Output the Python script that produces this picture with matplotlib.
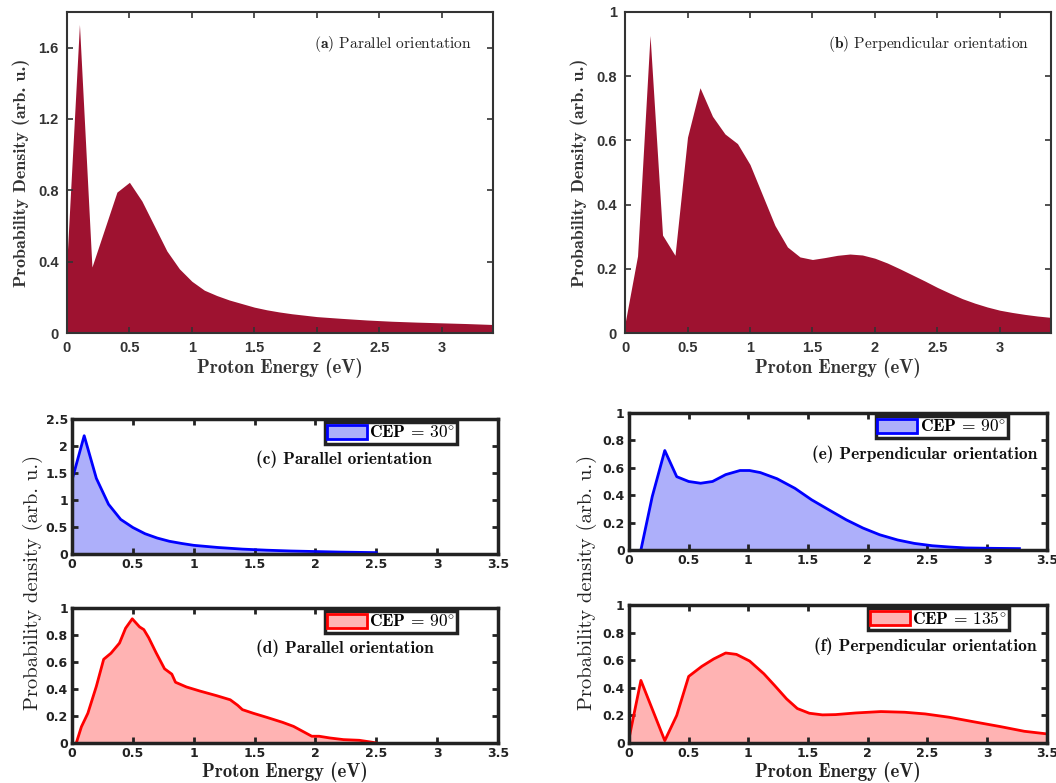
import numpy as np
import matplotlib
matplotlib.use('Agg')
import matplotlib.pyplot as plt
from matplotlib.patches import Patch

plt.rcParams['mathtext.fontset'] = 'cm'

# (a) parallel orientation, total spectrum
xa = [0.0, 0.1, 0.2, 0.3, 0.4, 0.5, 0.6, 0.7, 0.8, 0.9, 1.0, 1.1, 1.2, 1.3, 1.4,
      1.5, 1.6, 1.7, 1.8, 2.0, 2.2, 2.4, 2.6, 2.8, 3.0, 3.2, 3.4]
ya = [0.41, 1.73, 0.37, 0.58, 0.79, 0.845, 0.74, 0.60, 0.46, 0.36, 0.29, 0.24,
      0.21, 0.185, 0.165, 0.145, 0.13, 0.118, 0.108, 0.092, 0.082, 0.073, 0.066,
      0.061, 0.057, 0.053, 0.048]

# (b) perpendicular orientation, total spectrum
xb = [0.0, 0.1, 0.2, 0.3, 0.4, 0.5, 0.6, 0.7, 0.8, 0.9, 1.0, 1.1, 1.2, 1.3, 1.4,
      1.5, 1.6, 1.7, 1.8, 1.9, 2.0, 2.1, 2.2, 2.3, 2.4, 2.5, 2.6, 2.7, 2.8, 2.9,
      3.0, 3.1, 3.2, 3.3, 3.4]
yb = [0.03, 0.24, 0.927, 0.305, 0.242, 0.61, 0.764, 0.675, 0.62, 0.59, 0.525,
      0.43, 0.335, 0.268, 0.237, 0.229, 0.235, 0.242, 0.246, 0.243, 0.233, 0.218,
      0.2, 0.181, 0.162, 0.142, 0.124, 0.107, 0.093, 0.081, 0.071, 0.064, 0.058,
      0.053, 0.049]

# (c) parallel, CEP = 30 deg
xc = [0.0, 0.1, 0.2, 0.3, 0.4, 0.5, 0.6, 0.7, 0.8, 0.9, 1.0, 1.2, 1.4, 1.6, 1.8,
      2.0, 2.2, 2.5]
yc = [1.37, 2.19, 1.40, 0.92, 0.64, 0.49, 0.375, 0.295, 0.235, 0.195, 0.16,
      0.12, 0.09, 0.07, 0.055, 0.045, 0.035, 0.025]

# (d) parallel, CEP = 90 deg
xd = [0.035, 0.077, 0.13, 0.2, 0.26, 0.32, 0.39, 0.44, 0.495, 0.555, 0.59, 0.63,
      0.69, 0.76, 0.82, 0.85, 0.94, 1.05, 1.19, 1.3, 1.36, 1.4, 1.49, 1.6, 1.73,
      1.82, 1.97, 2.03, 2.12, 2.23, 2.36, 2.47, 2.5]
yd = [0.0, 0.12, 0.22, 0.42, 0.62, 0.665, 0.74, 0.85, 0.92, 0.86, 0.84, 0.78,
      0.67, 0.55, 0.51, 0.45, 0.415, 0.385, 0.35, 0.32, 0.28, 0.247, 0.22, 0.19,
      0.153, 0.123, 0.05, 0.05, 0.037, 0.025, 0.02, 0.005, 0.0]

# (e) perpendicular, CEP = 90 deg
xe = [0.1, 0.195, 0.3, 0.4, 0.5, 0.6, 0.7, 0.81, 0.93, 1.01, 1.1, 1.24, 1.39,
      1.53, 1.68, 1.82, 1.96, 2.1, 2.25, 2.39, 2.54, 2.68, 2.82, 3.05, 3.27]
ye = [0.0, 0.39, 0.726, 0.535, 0.50, 0.487, 0.50, 0.55, 0.58, 0.58, 0.565, 0.52,
      0.45, 0.366, 0.29, 0.22, 0.16, 0.111, 0.073, 0.048, 0.031, 0.022, 0.015,
      0.012, 0.01]

# (f) perpendicular, CEP = 135 deg
xf = [0.0, 0.1, 0.3, 0.4, 0.5, 0.61, 0.71, 0.81, 0.9, 1.01, 1.13, 1.22, 1.32,
      1.41, 1.51, 1.62, 1.73, 1.9, 2.11, 2.31, 2.48, 2.68, 2.88, 3.11, 3.31, 3.5]
yf = [0.03, 0.454, 0.017, 0.2, 0.483, 0.556, 0.61, 0.653, 0.643, 0.595, 0.502,
      0.417, 0.32, 0.25, 0.216, 0.204, 0.206, 0.218, 0.228, 0.223, 0.211, 0.187,
      0.155, 0.119, 0.085, 0.066]

dark_red = '#9E1230'
gray = '#333333'

fig = plt.figure(figsize=(10.56, 7.83), dpi=100)


def top_panel(rect, x, y, yticks, ylim, label):
    ax = fig.add_axes(rect)
    ax.fill_between(x, y, 0, color=dark_red, linewidth=0)
    ax.set_xlim(0, 3.41)
    ax.set_ylim(*ylim)
    ax.set_xticks([0, 0.5, 1, 1.5, 2, 2.5, 3])
    ax.set_xticklabels(['0', '0.5', '1', '1.5', '2', '2.5', '3'])
    ax.set_yticks(yticks)
    ax.set_yticklabels(['%g' % t for t in yticks])
    ax.tick_params(direction='in', top=True, right=True, length=4, width=1.2,
                   color=gray, labelcolor=gray, labelsize=10.5, pad=6)
    for lab in ax.get_xticklabels() + ax.get_yticklabels():
        lab.set_fontfamily('Liberation Sans')
        lab.set_fontweight('bold')
    for s in ax.spines.values():
        s.set_color(gray)
        s.set_linewidth(1.5)
    ax.set_xlabel('Proton Energy (eV)', fontfamily='cmb10', fontsize=13.5, color=gray, labelpad=2)
    ax.set_ylabel('Probability Density (arb. u.)', fontfamily='cmb10', fontsize=13, color=gray,
                  labelpad=6)
    ax.text(0.95, 0.9, label, transform=ax.transAxes, ha='right', va='center',
            fontfamily='cmr10', fontsize=11.2, color='#222222')
    return ax


def bottom_panel(rect, x, y, col, fill, ylim, yticks, cep, label, lx, leg_x, xlabel=False):
    ax = fig.add_axes(rect)
    ax.fill_between(x, y, 0, color=fill, linewidth=0)
    ax.plot(x, y, color=col, linewidth=2)
    ax.set_xlim(0, 3.5)
    ax.set_ylim(*ylim)
    ax.set_xticks(np.arange(0, 3.51, 0.5))
    ax.set_xticklabels(['0', '0.5', '1', '1.5', '2', '2.5', '3', '3.5'])
    ax.set_yticks(yticks)
    ax.set_yticklabels(['%g' % t for t in yticks])
    ax.tick_params(direction='in', top=True, right=True, length=4, width=2,
                   color='#222222', labelcolor='#222222', labelsize=9, pad=3)
    for lab in ax.get_xticklabels() + ax.get_yticklabels():
        lab.set_fontweight('bold')
    for s in ax.spines.values():
        s.set_color('#222222')
        s.set_linewidth(2.5)
    h = Patch(facecolor=fill, edgecolor=col, linewidth=2)
    leg = ax.legend([h], [r'$\mathbf{CEP}\,=\,\mathbf{%s}^{\circ}$' % cep], loc='upper right',
                    bbox_to_anchor=(leg_x, 0.995), fontsize=12.5, frameon=True, fancybox=False,
                    framealpha=1, edgecolor='#222222', borderpad=0.1, handlelength=2.3,
                    handleheight=0.9, handletextpad=0.15, borderaxespad=0.15)
    leg.get_frame().set_linewidth(2.5)
    ax.text(lx, 0.70, label, transform=ax.transAxes, ha='right', va='center',
            fontfamily='cmb10', fontsize=12.5, color='#111111')
    if xlabel:
        ax.set_xlabel('Proton Energy (eV)', fontfamily='cmb10', fontsize=13.5, color='#222222',
                      labelpad=1)
    return ax


top_panel([0.0634, 0.5747, 0.4034, 0.41], xa, ya, [0, 0.4, 0.8, 1.2, 1.6], (0, 1.8),
          r'($\mathbf{a}$) Parallel orientation')
top_panel([0.5919, 0.5747, 0.4034, 0.41], xb, yb, [0, 0.2, 0.4, 0.6, 0.8, 1], (0, 1),
          r'($\mathbf{b}$) Perpendicular orientation')

bottom_panel([0.0682, 0.2925, 0.4034, 0.1724], xc, yc, 'blue', '#ADAFFA', (0, 2.5),
             [0, 0.5, 1, 1.5, 2, 2.5], '30', '(c) Parallel orientation', 0.845, 0.91)
bottom_panel([0.0682, 0.0511, 0.4034, 0.1724], xd, yd, 'red', '#FFB3B3', (0, 1),
             [0, 0.2, 0.4, 0.6, 0.8, 1], '90', '(d) Parallel orientation', 0.85, 0.91,
             xlabel=True)
bottom_panel([0.5956, 0.2976, 0.3958, 0.175], xe, ye, 'blue', '#ADAFFA', (0, 1),
             [0, 0.2, 0.4, 0.6, 0.8, 1], '90', '(e) Perpendicular orientation', 0.976, 0.912)
bottom_panel([0.5956, 0.0511, 0.3958, 0.176], xf, yf, 'red', '#FFB3B3', (0, 1),
             [0, 0.2, 0.4, 0.6, 0.8, 1], '135', '(f) Perpendicular orientation', 0.976, 0.915,
             xlabel=True)

fig.text(0.031, 0.256, 'Probability density (arb. u.)', rotation=90, fontfamily='cmr10',
         ha='center', va='center', fontsize=14.8, color='#222222')
fig.text(0.556, 0.256, 'Probability density (arb. u.)', rotation=90, fontfamily='cmr10',
         ha='center', va='center', fontsize=14.8, color='#222222')

fig.savefig('out.png', dpi=100)
